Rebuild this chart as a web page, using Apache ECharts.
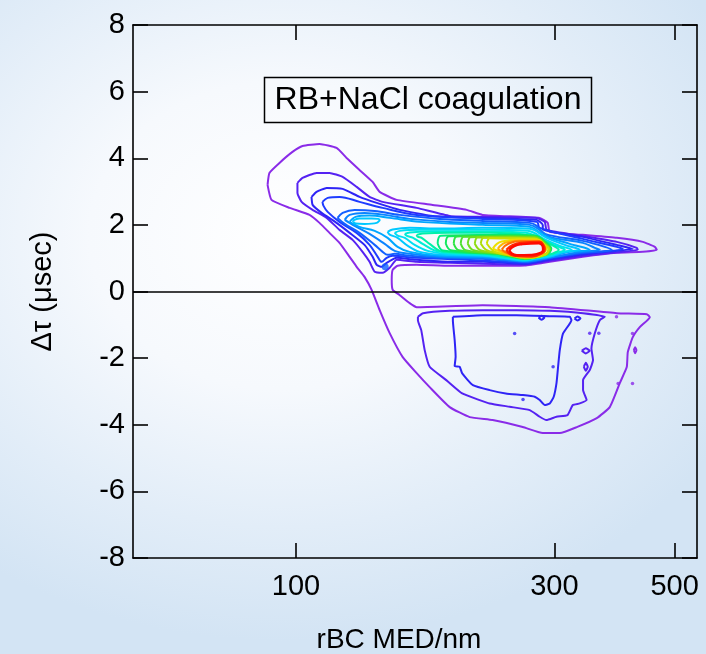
<!DOCTYPE html>
<html>
<head>
<meta charset="utf-8">
<script src="https://cdn.jsdelivr.net/npm/echarts@6/dist/echarts.min.js"></script>
<style>
  html, body { margin: 0; padding: 0; }
  body {
    width: 706px; height: 654px; overflow: hidden;
    background: radial-gradient(ellipse 72% 62% at 40% 36%, #ffffff 0%, #f6f9fd 38%, #e2edf8 72%, #d3e4f4 100%);
  }
  #chart { width: 706px; height: 654px; }
</style>
</head>
<body>
<div id="chart"></div>
<script>
// Axis settings (x in nm on a log10 scale, y in microseconds)
const xRange = [50, 550];
const xTickValues = [100, 300, 500];
const yRange = [-8, 8];
const yTickStep = 2;

// Rainbow contour palette, lowest level first
const levelColors = [
  '#8a2be8', '#5522f2', '#2e24f6', '#1e3cff', '#1260ff', '#0a84ff',
  '#00a6ff', '#00c8ff', '#00def2', '#00ecd6', '#00f0aa',
  '#00ec80', '#10e85e', '#2ce444', '#4ee030', '#6edd20', '#8edc12', '#aedc08', '#ccde00',
  '#eee000', '#ffb400', '#ff6e00', '#ff2800', '#ff0a00'
];

// Level 1: outermost contour wrapping both the positive and negative lobes
const outerLevel1 = [[88.6,3.20],[89.3,3.56],[93.2,3.86],[98.5,4.19],[102.8,4.37],[110.5,4.43],[118.8,4.31],[124.0,4.01],[131.0,3.65],[138.5,3.29],[142.7,2.99],[153.4,2.75],[178.8,2.60],[206.6,2.45],[221.1,2.30],[281.8,2.21],[291.6,2.06],[294.1,1.79],[338.4,1.70],[391.1,1.61],[436.8,1.49],[459.7,1.34],[463.6,1.25],[436.8,1.19],[391.1,1.16],[338.4,1.04],[294.1,0.89],[264.5,0.78],[221.1,0.77],[192.2,0.77],[167.0,0.80],[154.0,0.77],[150.8,0.65],[150.2,0.35],[150.8,0.05],[155.4,-0.11],[162.1,-0.35],[167.0,-0.47],[221.1,-0.41],[294.1,-0.47],[391.1,-0.65],[444.3,-0.68],[450.0,-0.77],[431.2,-1.07],[418.6,-1.37],[409.8,-1.82],[408.0,-2.27],[396.1,-2.75],[379.6,-3.47],[359.2,-3.80],[329.9,-4.07],[306.9,-4.25],[285.5,-4.25],[262.2,-4.07],[230.7,-3.86],[209.2,-3.77],[192.2,-3.47],[176.5,-2.87],[167.0,-2.45],[157.4,-1.97],[148.9,-1.25],[142.7,-0.56],[137.9,0.05],[133.8,0.44],[129.4,0.74],[125.6,1.04],[120.3,1.46],[115.3,1.76],[110.5,2.06],[105.9,2.30],[97.3,2.51],[90.1,2.75]];

// Upper (positive) lobe, levels 2-11
const upperLevel2 = [[100.6,3.26],[102.8,3.41],[109.1,3.56],[115.3,3.56],[121.9,3.44],[129.4,3.14],[136.7,2.84],[144.5,2.69],[167.0,2.51],[192.2,2.27],[221.1,2.24],[278.3,2.21],[287.9,2.09],[290.4,1.85],[338.4,1.67],[391.1,1.49],[425.8,1.31],[427.6,1.25],[401.2,1.19],[338.4,1.07],[294.1,0.92],[264.5,0.81],[221.1,0.83],[192.2,0.86],[167.0,0.89],[153.4,0.95],[148.9,0.71],[144.5,0.56],[139.7,0.59],[136.7,0.89],[132.7,1.19],[127.2,1.55],[120.3,1.85],[113.9,2.21],[107.3,2.45],[102.4,2.69],[100.6,2.96]];
const upperLevel3 = [[106.8,2.84],[109.1,2.99],[113.9,3.11],[121.9,3.08],[131.0,2.84],[140.9,2.66],[155.4,2.45],[178.8,2.27],[221.1,2.21],[278.3,2.15],[285.5,2.00],[285.5,1.85],[338.4,1.64],[391.1,1.40],[418.6,1.28],[391.1,1.22],[338.4,1.11],[294.1,0.96],[264.5,0.83],[221.1,0.89],[192.2,0.89],[167.0,0.95],[153.4,1.01],[147.0,0.86],[143.9,0.74],[140.9,0.80],[138.5,1.04],[133.8,1.40],[125.6,1.76],[118.8,2.06],[111.5,2.36],[107.3,2.60]];
const upperLevel4 = [[111.9,2.69],[114.4,2.81],[120.3,2.84],[131.0,2.69],[144.5,2.51],[167.0,2.30],[221.1,2.18],[278.3,2.09],[281.9,1.91],[338.4,1.58],[391.1,1.34],[401.2,1.28],[338.4,1.14],[294.1,0.99],[264.5,0.86],[221.1,0.93],[167.0,1.01],[150.8,1.07],[147.0,1.01],[143.9,0.89],[141.5,1.04],[136.7,1.40],[129.4,1.76],[120.3,2.09],[114.4,2.39],[112.4,2.57]];
const upperLevel5 = [[119.3,2.21],[121.9,2.36],[128.3,2.45],[139.7,2.42],[155.4,2.30],[184.2,2.18],[221.1,2.12],[270.1,2.06],[278.3,1.97],[287.9,1.73],[338.4,1.52],[371.6,1.34],[382.9,1.25],[363.8,1.20],[338.4,1.16],[294.1,1.01],[264.5,0.89],[242.8,0.93],[221.1,0.98],[184.2,1.01],[162.1,1.07],[152.1,1.13],[147.6,1.10],[144.5,1.19],[139.7,1.40],[131.0,1.76],[123.0,2.03]];
const upperLevel6 = [[123.0,2.15],[125.6,2.30],[133.8,2.36],[145.8,2.30],[162.1,2.18],[192.2,2.09],[221.1,2.06],[270.1,2.00],[281.9,1.85],[294.1,1.64],[338.4,1.46],[356.1,1.31],[363.8,1.25],[338.4,1.19],[294.1,1.02],[264.5,0.90],[242.8,0.95],[221.1,1.01],[184.2,1.04],[162.1,1.13],[152.1,1.22],[145.8,1.43],[136.7,1.73],[128.3,1.97]];
const upperLevel7 = [[125.6,2.09],[128.8,2.24],[136.7,2.28],[148.9,2.21],[169.2,2.09],[221.1,2.00],[270.1,1.94],[287.9,1.67],[320.2,1.43],[348.6,1.25],[320.2,1.19],[294.1,1.04],[276.0,0.96],[264.5,0.92],[242.8,0.98],[221.1,1.04],[184.2,1.07],[162.1,1.19],[154.0,1.34],[147.6,1.61],[139.7,1.82],[131.0,1.94]];
const upperLevel8 = [[147.6,1.79],[150.8,1.86],[162.1,1.91],[184.2,1.89],[221.1,1.91],[270.1,1.88],[290.4,1.61],[313.5,1.40],[334.1,1.25],[313.5,1.19],[294.1,1.05],[276.0,0.98],[264.5,0.93],[242.8,1.00],[221.1,1.07],[184.2,1.11],[169.2,1.19],[160.9,1.37],[154.0,1.61],[148.9,1.71]];
const lobeIslandLevel8 = [[127.2,2.13],[131.0,2.19],[137.9,2.19],[142.7,2.15],[140.9,2.06],[133.8,2.03],[128.8,2.04]];
const upperLevel9 = [[152.1,1.76],[155.4,1.82],[169.2,1.85],[221.1,1.85],[267.8,1.82],[289.2,1.55],[306.9,1.37],[322.9,1.25],[306.9,1.17],[294.1,1.07],[276.0,0.99],[264.5,0.95],[242.8,1.01],[221.1,1.09],[188.2,1.14],[175.0,1.22],[165.6,1.40],[158.8,1.61],[154.0,1.68]];
const upperLevel10 = [[158.8,1.73],[162.1,1.77],[176.5,1.80],[221.1,1.80],[265.6,1.76],[287.9,1.52],[301.7,1.37],[313.5,1.25],[301.7,1.16],[291.6,1.08],[276.0,1.01],[264.5,0.96],[242.8,1.03],[221.1,1.12],[192.2,1.16],[180.3,1.23],[171.3,1.43],[164.2,1.62],[160.2,1.67]];
const upperLevel11 = [[167.0,1.70],[171.3,1.74],[192.2,1.76],[227.9,1.76],[263.3,1.71],[287.9,1.50],[300.4,1.35],[305.6,1.25],[297.9,1.14],[287.9,1.08],[276.0,1.02],[264.5,0.98],[248.1,1.03],[221.1,1.14],[196.3,1.17],[184.2,1.22],[176.5,1.43],[170.6,1.61],[167.7,1.65]];

// Ridge levels 12-19: loops whose left ends fan out towards the peak
const ridgeLevel12 = [[182.6,1.44],[185.0,1.67],[248.1,1.70],[276.0,1.68],[291.6,1.43],[296.0,1.28],[291.6,1.14],[264.5,0.98],[248.1,1.06],[234.8,1.13],[186.6,1.23]];
const ridgeLevel13 = [[189.0,1.44],[191.4,1.66],[248.1,1.68],[276.0,1.67],[291.1,1.42],[295.5,1.28],[291.1,1.14],[264.5,0.99],[248.1,1.06],[234.8,1.13],[193.0,1.24]];
const ridgeLevel14 = [[195.5,1.44],[198.0,1.65],[248.1,1.67],[276.0,1.65],[290.6,1.41],[295.0,1.28],[290.6,1.13],[264.5,0.99],[248.1,1.07],[234.8,1.14],[199.7,1.24]];
const ridgeLevel15 = [[201.4,1.44],[204.0,1.64],[248.1,1.65],[276.0,1.64],[290.1,1.41],[294.5,1.28],[290.1,1.12],[264.5,1.00],[248.1,1.07],[234.8,1.14],[205.7,1.24]];
const ridgeLevel16 = [[207.5,1.44],[210.2,1.63],[248.1,1.64],[276.0,1.62],[289.6,1.40],[294.0,1.28],[289.6,1.12],[264.5,1.00],[248.1,1.08],[234.8,1.15],[212.0,1.25]];
const ridgeLevel17 = [[213.8,1.44],[216.5,1.62],[248.1,1.62],[276.0,1.61],[289.2,1.40],[293.5,1.28],[289.2,1.11],[264.5,1.00],[248.1,1.09],[234.8,1.16],[218.4,1.25]];
const ridgeLevel18 = [[219.3,1.44],[222.1,1.61],[248.1,1.61],[276.0,1.59],[288.7,1.39],[293.0,1.28],[288.7,1.11],[264.5,1.01],[248.1,1.09],[234.8,1.16],[224.0,1.26]];
const ridgeLevel19 = [[225.0,1.44],[227.9,1.60],[248.1,1.59],[276.0,1.58],[288.2,1.38],[292.5,1.28],[288.2,1.10],[264.5,1.01],[248.1,1.10],[234.8,1.17],[229.8,1.26]];

// Peak levels 20-24
const peakLevel20 = [[230.8,1.29],[239.8,1.50],[258.9,1.56],[279.5,1.55],[287.3,1.41],[289.8,1.28],[286.7,1.16],[273.6,1.03],[258.9,1.04],[248.1,1.11],[237.8,1.20]];
const peakLevel21 = [[235.8,1.28],[243.9,1.47],[258.9,1.53],[279.5,1.53],[286.7,1.40],[288.9,1.28],[286.1,1.16],[272.5,1.04],[258.9,1.05],[250.2,1.10],[241.9,1.17]];
const peakLevel22 = [[239.8,1.26],[247.1,1.44],[261.1,1.51],[280.7,1.51],[286.5,1.39],[288.3,1.27],[285.5,1.16],[272.5,1.04],[261.1,1.05],[252.4,1.09],[245.0,1.16]];
const peakLevel23 = [[244.6,1.25],[251.3,1.39],[260.0,1.46],[281.9,1.49],[286.4,1.38],[287.6,1.26],[284.9,1.16],[272.5,1.06],[254.5,1.07],[248.1,1.13]];
const peakLevel24 = [[247.6,1.25],[253.4,1.37],[261.1,1.42],[280.7,1.45],[285.2,1.37],[285.9,1.26],[283.7,1.17],[272.5,1.10],[255.6,1.09],[250.2,1.14]];

// Lower (negative) lobe, levels 2-3, plus small islands
const lowerLevel2 = [[167.9,-0.76],[171.6,-0.65],[192.2,-0.58],[221.4,-0.56],[255.2,-0.56],[294.1,-0.58],[338.8,-0.65],[371.6,-0.76],[363.8,-0.86],[356.1,-1.26],[351.1,-1.71],[353.5,-2.06],[348.6,-2.36],[338.8,-2.66],[338.8,-2.96],[344.0,-3.26],[334.1,-3.36],[324.4,-3.41],[317.2,-3.71],[302.6,-3.76],[289.9,-3.86],[281.8,-3.76],[270.1,-3.56],[248.0,-3.46],[227.8,-3.36],[218.3,-3.26],[202.7,-3.06],[189.4,-2.66],[176.5,-2.26],[172.8,-1.76],[170.3,-1.16],[167.9,-0.86]];
const lowerLevel3 = [[194.8,-0.76],[221.4,-0.71],[255.2,-0.71],[294.1,-0.74],[320.2,-0.76],[322.5,-0.86],[311.2,-1.26],[306.9,-1.76],[304.7,-2.26],[302.6,-2.76],[299.1,-3.16],[294.1,-3.36],[287.9,-3.41],[281.8,-3.26],[275.9,-3.16],[262.5,-3.11],[243.9,-3.06],[227.8,-2.96],[212.1,-2.81],[202.7,-2.46],[200.5,-2.26],[196.3,-2.24],[197.1,-1.96],[196.3,-1.46],[194.8,-0.86]];
const lowerIslandsLevel1 = [[[420.4,-1.76],[422.7,-1.67],[425.1,-1.76],[422.7,-1.85]]];
const lowerIslandsLevel2 = [[[336.9,-1.78],[342.8,-1.70],[348.6,-1.78],[342.8,-1.86]], [[339.9,-2.26],[342.8,-2.14],[345.7,-2.26],[342.8,-2.38]]];
const lowerIslandsLevel3 = [[[280.4,-0.79],[284.0,-0.73],[287.5,-0.79],[284.0,-0.85]], [[326.7,-0.81],[331.0,-0.75],[335.1,-0.81],[331.0,-0.87]]];

// Single-cell specks
const speckLevel1 = [[390.6,-0.76],[418.1,-1.26],[393.3,-2.76],[418.1,-2.76]];
const speckLevel2 = [[348.6,-1.25],[362.3,-1.25]];
const speckLevel3 = [[253.3,-1.26],[298.3,-2.26],[262.5,-3.24]];
const knotLevel5 = [[146.1,0.74]];

// [level, points] in drawing order
const contours = [
  [1, outerLevel1],
  [2, upperLevel2], [2, lowerLevel2],
  [3, upperLevel3], [3, lowerLevel3],
  [4, upperLevel4], [5, upperLevel5], [6, upperLevel6], [7, upperLevel7],
  [8, upperLevel8], [8, lobeIslandLevel8],
  [9, upperLevel9], [10, upperLevel10], [11, upperLevel11],
  [12, ridgeLevel12], [13, ridgeLevel13], [14, ridgeLevel14], [15, ridgeLevel15],
  [16, ridgeLevel16], [17, ridgeLevel17], [18, ridgeLevel18], [19, ridgeLevel19],
  [20, peakLevel20], [21, peakLevel21], [22, peakLevel22], [23, peakLevel23], [24, peakLevel24]
];
lowerIslandsLevel1.forEach(p => contours.push([1, p]));
lowerIslandsLevel2.forEach(p => contours.push([2, p]));
lowerIslandsLevel3.forEach(p => contours.push([3, p]));

const specks = [[1, speckLevel1], [2, speckLevel2], [3, speckLevel3], [5, knotLevel5]];

const lg = v => Math.log10(v);
const closedLoop = pts => {
  const d = pts.map(p => [lg(p[0]), p[1]]);
  d.push(d[0]);
  return d;
};

const series = contours.map(([lvl, pts], i) => ({
  type: 'line',
  data: closedLoop(pts),
  showSymbol: false,
  silent: true,
  smooth: lvl <= 3 ? 0.15 : (lvl >= 20 ? 0.5 : 0.35),
  lineStyle: { color: levelColors[lvl - 1], width: lvl >= 23 ? 2.4 : 2 },
  z: 2 + lvl,
  markLine: i === 0 ? {
    silent: true,
    symbol: ['none', 'none'],
    label: { show: false },
    lineStyle: { color: '#000', width: 1.6, type: 'solid' },
    data: [{ yAxis: 0 }]
  } : undefined
}));

specks.forEach(([lvl, pts]) => series.push({
  type: 'scatter',
  data: pts.map(p => [lg(p[0]), p[1]]),
  symbolSize: lvl === 5 ? 7 : 3.5,
  silent: true,
  itemStyle: { color: levelColors[lvl - 1] },
  z: 3 + lvl
}));

const font = 'Liberation Sans, Arial, Helvetica, sans-serif';
const xTickLogs = xTickValues.map(lg);
const axisLineStyle = { color: '#000', width: 1.6 };

const baseX = {
  type: 'value',
  min: lg(xRange[0]),
  max: lg(xRange[1]),
  splitLine: { show: false },
  axisLine: { show: true, onZero: false, lineStyle: axisLineStyle },
  axisTick: { show: true, inside: true, length: 15, customValues: xTickLogs, lineStyle: axisLineStyle }
};
const baseY = {
  type: 'value',
  min: yRange[0],
  max: yRange[1],
  interval: yTickStep,
  splitLine: { show: false },
  axisLine: { show: true, onZero: false, lineStyle: axisLineStyle },
  axisTick: { show: true, inside: true, length: 15, lineStyle: axisLineStyle }
};

const chart = echarts.init(document.getElementById('chart'), null, { renderer: 'canvas' });
chart.setOption({
  animation: false,
  backgroundColor: 'transparent',
  grid: { left: 133, right: 9, top: 25, bottom: 96, containLabel: false, outerBoundsMode: 'none' },
  xAxis: [
    Object.assign({}, baseX, {
      position: 'bottom',
      axisLabel: {
        customValues: xTickLogs,
        formatter: v => String(Math.round(Math.pow(10, v))),
        color: '#000', fontSize: 29, fontFamily: font, margin: 14
      },
      name: 'rBC MED/nm',
      nameLocation: 'middle',
      nameGap: 68,
      nameTextStyle: { color: '#000', fontSize: 28, fontFamily: font, padding: [0, 32, 0, 0] }
    }),
    Object.assign({}, baseX, { position: 'top', axisLabel: { show: false } })
  ],
  yAxis: [
    Object.assign({}, baseY, {
      position: 'left',
      axisLabel: { color: '#000', fontSize: 29, fontFamily: font, margin: 8 },
      name: 'Δτ (μsec)',
      nameLocation: 'middle',
      nameRotate: 90,
      nameGap: 76,
      nameTextStyle: { color: '#000', fontSize: 29, fontFamily: font }
    }),
    Object.assign({}, baseY, { position: 'right', axisLabel: { show: false } })
  ],
  graphic: [
    {
      type: 'rect',
      shape: { x: 264.5, y: 77.5, width: 327, height: 45 },
      style: { fill: 'rgba(255,255,255,0)', stroke: '#000', lineWidth: 1.5 },
      z: 100
    },
    {
      type: 'text',
      x: 428, y: 100,
      style: {
        text: 'RB+NaCl coagulation',
        fill: '#000',
        font: '32px ' + font,
        textAlign: 'center',
        textVerticalAlign: 'middle'
      },
      z: 101
    }
  ],
  series: series
});
</script>
</body>
</html>
